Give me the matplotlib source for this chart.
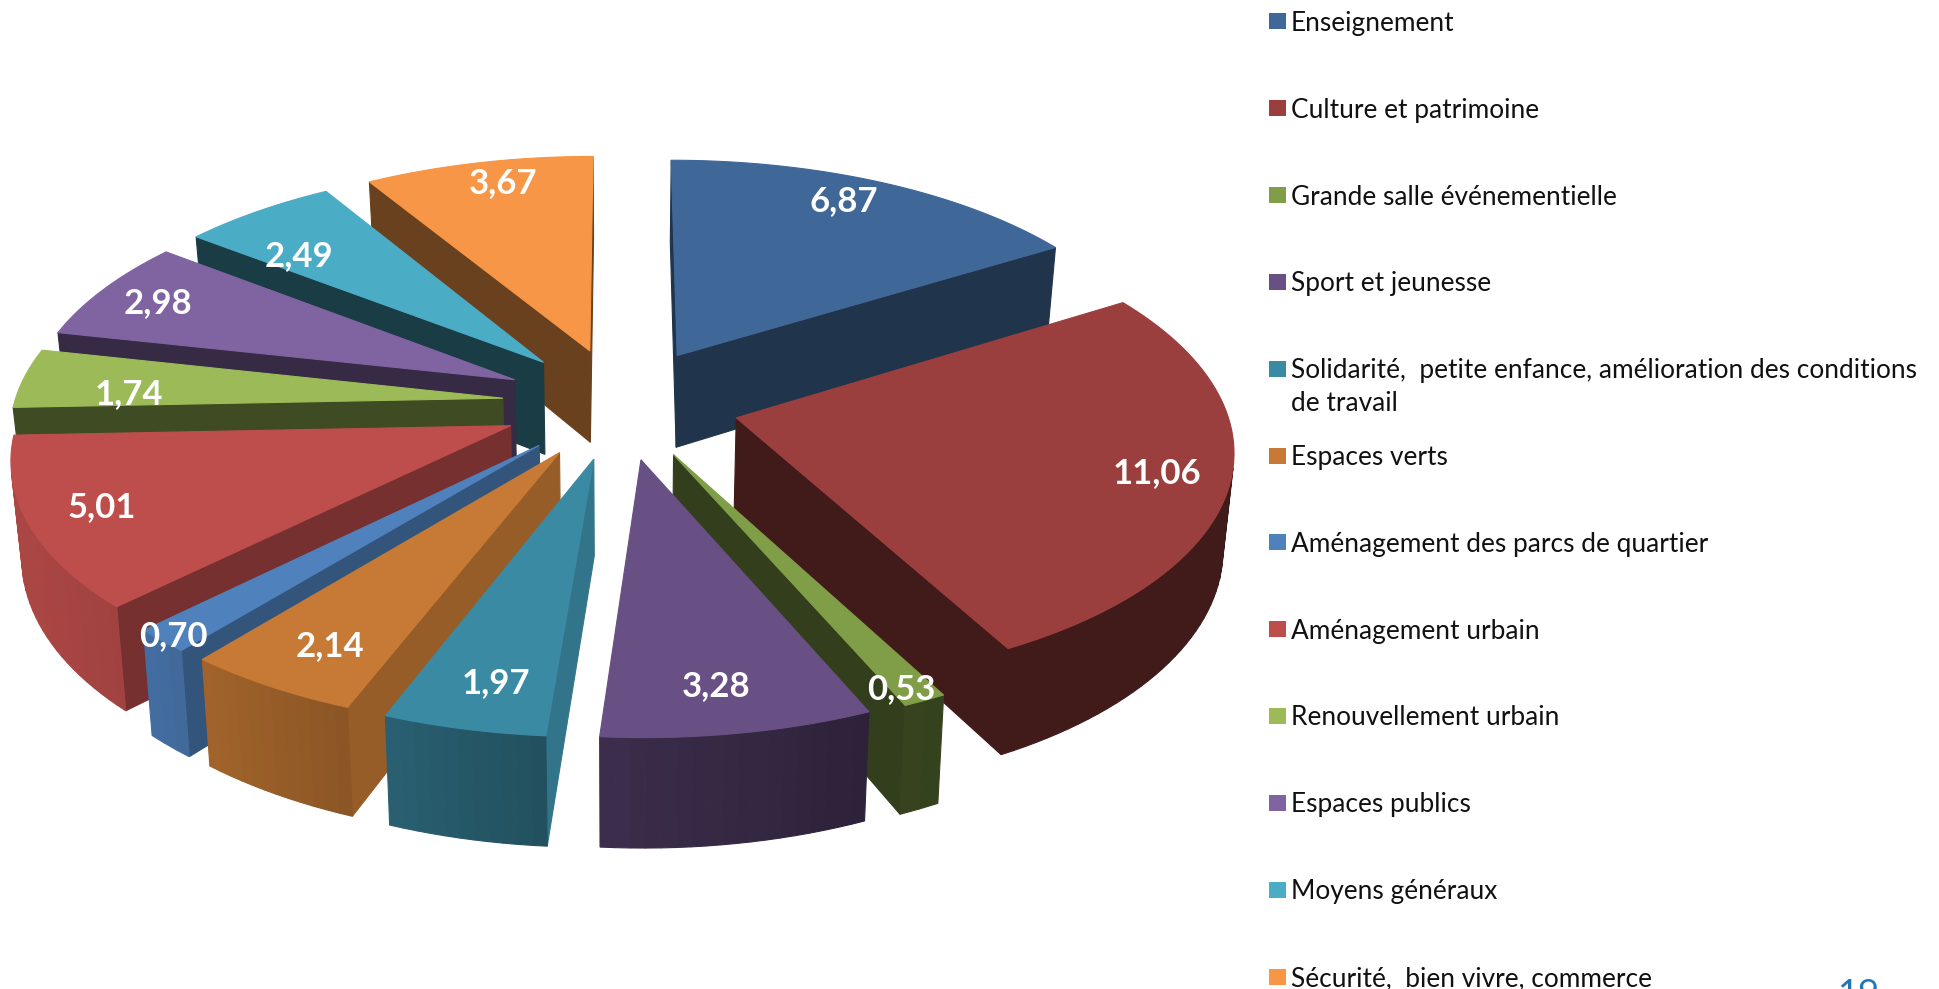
import numpy as np
import matplotlib
matplotlib.use("Agg")
import matplotlib.pyplot as plt
from matplotlib.patches import Rectangle
from matplotlib.colors import to_rgb

# ---------- data ----------
categories = ["Enseignement", "Culture et patrimoine", "Grande salle événementielle",
              "Sport et jeunesse",
              "Solidarité,  petite enfance, amélioration des conditions\nde travail",
              "Espaces verts", "Aménagement des parcs de quartier", "Aménagement urbain",
              "Renouvellement urbain", "Espaces publics", "Moyens généraux",
              "Sécurité,  bien vivre, commerce"]
values = [6.87, 11.06, 0.53, 3.28, 1.97, 2.14, 0.70, 5.01, 1.74, 2.98, 2.49, 3.67]
value_labels = ["6,87", "11,06", "0,53", "3,28", "1,97", "2,14", "0,70", "5,01", "1,74", "2,98", "2,49", "3,67"]
colors = ["#3f6797", "#9b3f3e", "#7f9e47", "#684f84", "#3b8aa3", "#c67a35",
          "#4f81bd", "#bd4e4c", "#9cbb58", "#8064a2", "#4bacc6", "#f79646"]

# ---------- style ----------
cut_shade = [0.50, 0.42, 0.40, 0.42, 0.85, 0.76, 0.65, 0.62, 0.40, 0.42, 0.35, 0.43]
K = 1939 / 1568
label_xy = [(682, 160), (936, 380), (729, 555), (579, 552), (401, 550), (267, 520),
            (140, 512), (82, 408), (104, 316), (128, 243), (242, 205), (407, 146)]
legend_y = [17, 87.5, 158, 228, 298, 368.5, 438.5, 509, 579, 649, 719.5, 790]
FONT = ["Lato", "DejaVu Sans"]

CX, CY = 502 * K, 326 * K
R, EXPL, HEIGHT = 395 * K, 96 * K, 76 * K
TILT, PERSP, BOTTOM_X = 0.47, 0.123 / (404 * K), 0.982


def project(X, Y, z):
    s = 1.0 / (1.0 - PERSP * Y)
    sx = CX + s * X * (BOTTOM_X if z else 1.0)
    sy = CY + s * TILT * Y + s * HEIGHT * z
    return sx, sy


def outer_shade(theta):
    return np.interp(theta, [0, 90, 155, 170, 185, 195, 210, 225, 245, 360],
                     [0.42, 0.42, 0.42, 0.50, 0.58, 0.65, 0.76, 0.85, 0.90, 0.90])


def area(poly):
    x, y = np.array(poly).T
    return np.sum(x * np.roll(y, -1) - np.roll(x, -1) * y)


def shaded(color, f):
    return tuple(c * f for c in to_rgb(color))


fig = plt.figure(figsize=(19.39, 9.89), dpi=100, facecolor="white")
ax = fig.add_axes([0, 0, 1, 1])
ax.set_xlim(0, 1939)
ax.set_ylim(989, 0)
ax.axis("off")

vals = np.array(values)
edges = np.concatenate([[0], np.cumsum(vals)]) / vals.sum() * 360
order = np.argsort([-np.cos(np.radians((edges[i] + edges[i + 1]) / 2)) for i in range(len(vals))])
order = order.tolist()

for i in order:
    t0, t1 = edges[i], edges[i + 1]
    mid = np.radians((t0 + t1) / 2)
    ox, oy = EXPL * np.sin(mid), -EXPL * np.cos(mid)
    th = np.linspace(t0, t1, max(int((t1 - t0) / 1.5), 2) + 1)
    px = ox + R * np.sin(np.radians(th))
    py = oy - R * np.cos(np.radians(th))
    top = [project(a, b, 0) for a, b in zip(px, py)]
    bot = [project(a, b, 1) for a, b in zip(px, py)]
    apex_t, apex_b = project(ox, oy, 0), project(ox, oy, 1)
    col = colors[i]

    def face(poly, fc, z):
        ax.fill(*zip(*poly), facecolor=fc, edgecolor=fc, linewidth=0.8, zorder=z)

    base = order.index(i) * 10
    start = [apex_t, top[0], bot[0], apex_b]
    end = [top[-1], apex_t, apex_b, bot[-1]]
    if area(start) < 0:
        face(start, shaded(col, cut_shade[i]), base + 1)
    if area(end) < 0:
        face(end, shaded(col, cut_shade[i]), base + 1)
    for j in range(len(th) - 1):
        q = [top[j], top[j + 1], bot[j + 1], bot[j]]
        if area(q) < 0:
            face(q, shaded(col, outer_shade((th[j] + th[j + 1]) / 2)), base + 2)
    face([apex_t] + top, col, base + 3)

for (x, y), s in zip(label_xy, value_labels):
    ax.text(x * K, y * K + 3, s, color="white", fontsize=25, fontweight="bold",
            family=FONT, ha="center", va="center", zorder=500)

for y, name, col in zip(legend_y, categories, colors):
    ax.add_patch(Rectangle((1269, y * K - 8), 16.5, 16, facecolor=col, edgecolor="none"))
    ax.text(1291, y * K - 10.5, name, fontsize=18.9, color="#111111", family=FONT,
            ha="left", va="top", linespacing=1.42)

ax.text(1858, 978, "19", fontsize=26, color="#1f77b8", family=FONT, ha="center", va="top")
fig.savefig("out.png", dpi=100, facecolor="white")
